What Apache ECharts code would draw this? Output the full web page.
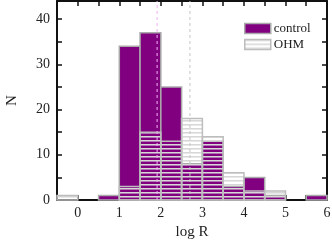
<!DOCTYPE html>
<html><head><meta charset="utf-8">
<script src="https://cdn.jsdelivr.net/npm/echarts@6/dist/echarts.min.js"></script>
<style>html,body{margin:0;padding:0;background:#fff}#c{width:332px;height:243px}</style>
</head><body><div id="c"></div>
<script>
var binStarts = [-0.5, 0.0, 0.5, 1.0, 1.5, 2.0, 2.5, 3.0, 3.5, 4.0, 4.5, 5.0, 5.5];
var controlCounts = [0, 0, 1, 34, 37, 25, 8, 13, 3, 5, 1, 0, 1];
var ohmCounts     = [1, 0, 0, 3, 15, 13, 18, 14, 6, 2, 2, 0, 0];
var binWidth = 0.5;
var controlMedian = 1.91;
var ohmMedian = 2.70;
var xTickLabels = ['0','1','2','3','4','5','6'];
var yTickLabels = ['0','10','20','30','40'];

var FONT = '"Liberation Serif", "DejaVu Serif", serif';

var cv = document.createElement('canvas');
cv.width = 4; cv.height = 4;
var cx = cv.getContext('2d');
cx.fillStyle = 'rgba(215,215,215,1)'; cx.fillRect(0,0,4,1);
cx.fillStyle = 'rgba(215,215,215,0.55)'; cx.fillRect(0,1,4,1);
var stripe = {image: cv, repeat: 'repeat'};

function toData(counts){
  var d = [];
  for (var i = 0; i < binStarts.length; i++) if (counts[i] > 0) d.push([binStarts[i], counts[i]]);
  return d;
}
function makeRender(fill, stroke){
  return function(params, api){
    var x0 = api.value(0), v = api.value(1);
    var p0 = api.coord([x0, v]);
    var p1 = api.coord([x0 + binWidth, 0]);
    return {type:'rect', shape:{x:p0[0], y:p0[1], width:p1[0]-p0[0], height:p1[1]-p0[1]},
      style:{fill: fill, stroke: stroke, lineWidth: 1.5}};
  };
}
var axisLineStyle = {color:'#111', width:2};
var tickStyle = {color:'#111', width:1.5};
var chart = echarts.init(document.getElementById('c'), null, {renderer:'canvas'});
chart.setOption({
  animation:false,
  grid:{left:57, right:5, top:1, bottom:43, outerBoundsMode:'none', containLabel:false},
  legend:{orient:'vertical', left:239, top:17, itemWidth:26, itemHeight:10, itemGap:3,
    textStyle:{fontFamily:FONT, fontSize:13, color:'#222', padding:[0,0,0,-2]},
    data:[{name:'control', icon:'rect', itemStyle:{color:'#800080', borderColor:'#aaaaaa', borderWidth:1.5}},
          {name:'OHM', icon:'rect', itemStyle:{color:stripe, borderColor:'#bdbdbd', borderWidth:1.5}}]},
  xAxis:[{type:'value', min:-0.5, max:6, interval:0.5, position:'bottom',
    name:'log R', nameLocation:'middle', nameGap:22,
    nameTextStyle:{fontFamily:FONT, fontSize:15, color:'#222'},
    axisLine:{onZero:false, lineStyle:axisLineStyle}, splitLine:{show:false},
    axisTick:{inside:true, length:5, lineStyle:tickStyle},
    axisLabel:{fontFamily:FONT, fontSize:14, color:'#222', margin:6,
      formatter:function(v){ var s = String(v); return xTickLabels.indexOf(s) >= 0 ? s : ''; }}},
   {type:'value', min:-0.5, max:6, interval:0.5, position:'top',
    axisLine:{onZero:false, lineStyle:axisLineStyle}, splitLine:{show:false},
    axisTick:{inside:true, length:5, lineStyle:tickStyle}, axisLabel:{show:false}}],
  yAxis:[{type:'value', min:0, max:44, interval:5, position:'left',
    name:'N', nameLocation:'middle', nameGap:37,
    nameTextStyle:{fontFamily:FONT, fontSize:15, color:'#222'},
    axisLine:{show:true, onZero:false, lineStyle:axisLineStyle}, splitLine:{show:false},
    axisTick:{show:true, inside:true, length:5, lineStyle:tickStyle},
    axisLabel:{fontFamily:FONT, fontSize:14, color:'#222', margin:7, showMaxLabel:false,
      formatter:function(v){ var s = String(v); return yTickLabels.indexOf(s) >= 0 ? s : ''; }}},
   {type:'value', min:0, max:44, interval:5, position:'right',
    axisLine:{show:true, onZero:false, lineStyle:axisLineStyle}, splitLine:{show:false},
    axisTick:{show:true, inside:true, length:5, lineStyle:tickStyle}, axisLabel:{show:false}}],
  series:[
    {name:'control', type:'custom', renderItem:makeRender('#800080', '#aaaaaa'), data:toData(controlCounts),
      itemStyle:{color:'#800080', borderColor:'#aaaaaa'}, z:2},
    {name:'OHM', type:'custom', renderItem:makeRender(stripe, '#bdbdbd'), data:toData(ohmCounts),
      itemStyle:{color:stripe, borderColor:'#bdbdbd'}, z:3},
    {type:'line', data:[[controlMedian,0],[controlMedian,44]], showSymbol:false, silent:true, z:4,
      lineStyle:{color:'#f2b0f2', width:1, type:[3,3]}},
    {type:'line', data:[[ohmMedian,0],[ohmMedian,44]], showSymbol:false, silent:true, z:4,
      lineStyle:{color:'#c4c4c4', width:1, type:[3,3]}}
  ]
});
</script></body></html>
